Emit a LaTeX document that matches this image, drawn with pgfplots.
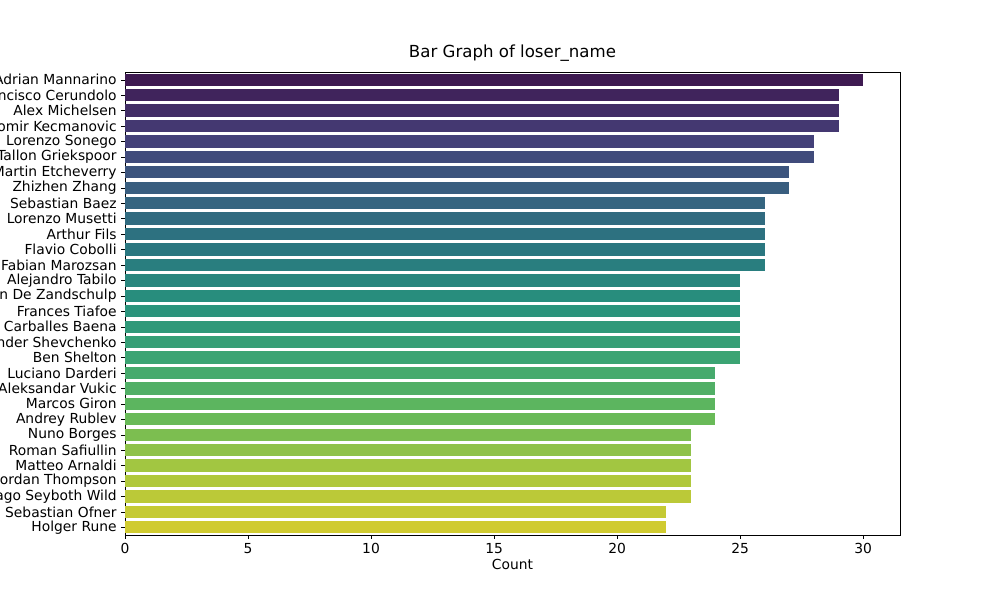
\documentclass[border=0pt]{standalone}
\usepackage{pgfplots}
\pgfplotsset{compat=1.18}
\usepackage{fontspec}
\setmainfont{DejaVu Sans}
\pgfplotsset{colormap={vir}{rgb255=(62,26,81) rgb255=(69,62,120) rgb255=(56,96,128) rgb255=(42,118,128) rgb255=(40,145,125) rgb255=(60,165,115) rgb255=(100,185,90) rgb255=(170,200,62) rgb255=(208,203,48)}}
\begin{document}
\begin{tikzpicture}
\useasboundingbox (0,0) rectangle (10in,6in);
\clip (0,0) rectangle (10in,6in);
\begin{axis}[at={(1.25in,0.65in)},anchor=south west,scale only axis,
 width=7.75in,height=4.63in,
 xbar, bar shift=0pt, bar width=0.123in,
 y dir=reverse, ymin=-0.5, ymax=29.5, xmin=0, xmax=31.5,
 ytick={0,...,29},
 yticklabels={Adrian Mannarino,Francisco Cerundolo,Alex Michelsen,Miomir Kecmanovic,Lorenzo Sonego,Tallon Griekspoor,Martin Etcheverry,Zhizhen Zhang,Sebastian Baez,Lorenzo Musetti,Arthur Fils,Flavio Cobolli,Fabian Marozsan,Alejandro Tabilo,Botic van De Zandschulp,Frances Tiafoe,Roberto Carballes Baena,Alexander Shevchenko,Ben Shelton,Luciano Darderi,Aleksandar Vukic,Marcos Giron,Andrey Rublev,Nuno Borges,Roman Safiullin,Matteo Arnaldi,Jordan Thompson,Thiago Seyboth Wild,Sebastian Ofner,Holger Rune},
 xtick={0,5,...,30},
 tick pos=left, tick align=outside,
 tick style={black}, major tick length=0.035in,
 ticklabel style={font=\fontsize{10}{12}\selectfont},
 /pgf/number format/assume math mode=true,
 xlabel={Count}, xlabel style={font=\fontsize{10}{12}\selectfont, yshift=3pt},
 title={Bar Graph of loser\_name}, title style={font=\fontsize{12}{14}\selectfont, yshift=-2pt},
 cycle list={[samples of colormap=30 of vir]},
 every axis plot/.append style={fill, draw=none},
]
\addplot coordinates {(30,0)};
\addplot coordinates {(29,1)};
\addplot coordinates {(29,2)};
\addplot coordinates {(29,3)};
\addplot coordinates {(28,4)};
\addplot coordinates {(28,5)};
\addplot coordinates {(27,6)};
\addplot coordinates {(27,7)};
\addplot coordinates {(26,8)};
\addplot coordinates {(26,9)};
\addplot coordinates {(26,10)};
\addplot coordinates {(26,11)};
\addplot coordinates {(26,12)};
\addplot coordinates {(25,13)};
\addplot coordinates {(25,14)};
\addplot coordinates {(25,15)};
\addplot coordinates {(25,16)};
\addplot coordinates {(25,17)};
\addplot coordinates {(25,18)};
\addplot coordinates {(24,19)};
\addplot coordinates {(24,20)};
\addplot coordinates {(24,21)};
\addplot coordinates {(24,22)};
\addplot coordinates {(23,23)};
\addplot coordinates {(23,24)};
\addplot coordinates {(23,25)};
\addplot coordinates {(23,26)};
\addplot coordinates {(23,27)};
\addplot coordinates {(22,28)};
\addplot coordinates {(22,29)};
\end{axis}
\end{tikzpicture}
\end{document}
